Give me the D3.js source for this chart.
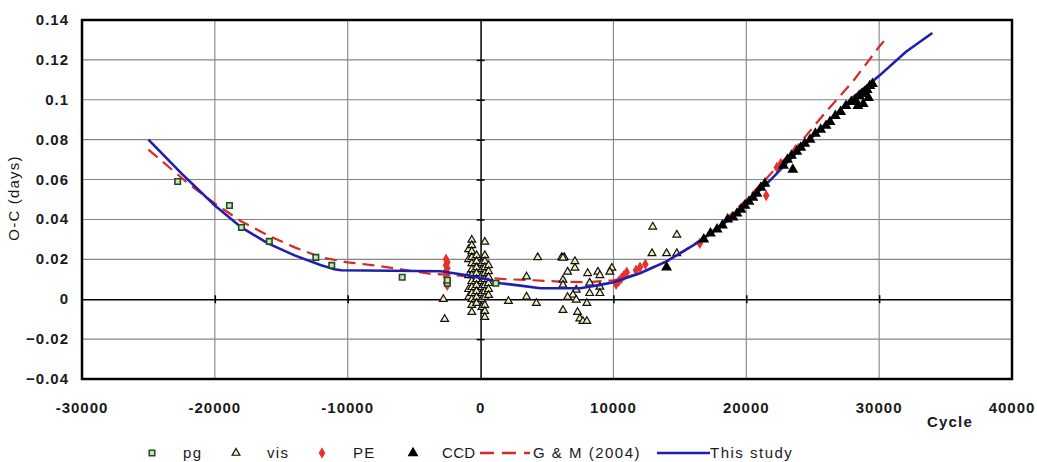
<!DOCTYPE html>
<html>
<head>
<meta charset="utf-8">
<script src="https://cdn.jsdelivr.net/npm/d3@7"></script>
<style>
  body { margin: 0; background: #fff; }
  text { font-family: "Liberation Sans", Arial, sans-serif; fill: #1a1a1a; }
</style>
</head>
<body>
<div id="chart"></div>
<script>
const FRAME_WIDTH = 1037;
const FRAME_HEIGHT = 462;
const PLOT = {left: 82, right: 1012, top: 20, bottom: 379};

// tick values
const X_TICKS = [-30000, -20000, -10000, 0, 10000, 20000, 30000, 40000];
const Y_TICKS = [-0.04, -0.02, 0, 0.02, 0.04, 0.06, 0.08, 0.1, 0.12, 0.14];

// photographic (pg) minima
const pg = [[-22800,0.059],[-18900,0.047],[-18000,0.036],[-15900,0.029],[-12400,0.021],
  [-11200,0.017],[-5900,0.011],[-2500,0.008],[-2500,0.0095],[1150,0.008]];

// visual minima
const vis = [[-2800,0.0],[-2700,-0.010],
  [-900,0.025],[-900,0.020],[-900,0.012],[-900,0.005],[-900,0.001],
  [-660,0.0297],[-660,0.027],[-660,0.024],[-660,0.021],[-660,0.018],[-660,0.015],[-660,0.012],
  [-660,0.009],[-660,0.006],[-660,0.003],[-660,0.0],[-660,-0.003],[-660,-0.0065],
  [-300,0.022],[-300,0.019],[-300,0.016],[-300,0.013],[-300,0.010],[-300,0.007],[-300,0.004],
  [-300,0.001],[-300,-0.002],
  [100,0.018],[100,0.015],[100,0.012],[100,0.009],[100,0.006],[100,0.003],[100,0.0],[100,-0.004],
  [320,0.0287],[320,0.022],[320,0.019],[320,0.016],[320,0.013],[320,0.010],[320,0.007],
  [320,0.004],[320,0.001],[320,-0.003],[320,-0.006],[320,-0.009],
  [600,0.017],[600,0.014],[600,0.011],[600,0.008],[600,0.005],[600,0.002],
  [2100,-0.001],[3460,0.0113],[3460,0.0012],[4300,0.021],[4200,-0.002],
  [6100,0.021],[6300,0.021],[6200,0.0207],[7100,0.019],[7100,0.0157],[6550,0.0137],[6200,0.0097],
  [6200,0.0072],[7200,0.0047],[6950,0.0022],[6550,0.001],[7200,-0.0003],[8060,0.013],
  [8830,0.0137],[8980,0.012],[8210,0.0082],[8210,0.003],[8980,0.0062],[8980,0.003],[8000,-0.002],
  [6200,-0.0055],[7300,-0.0065],[7470,-0.0097],[7700,-0.011],[8000,-0.011],[9880,0.0157],
  [9730,0.0137],[12900,0.023],[12960,0.0363],[14770,0.0323],[14000,0.023],[14770,0.023]];

// photoelectric minima
const pe = [[-2600,0.020],[-2500,0.0185],[-2600,0.017],[-2500,0.0155],[-2600,0.014],[-2500,0.0125],
  [-2600,0.011],[-2500,0.0095],[-2600,0.008],[-2500,0.007],
  [10200,0.0075],[10400,0.009],[10600,0.0105],[10800,0.012],[11000,0.0135],[11700,0.0145],
  [12000,0.016],[12400,0.0175],[16500,0.028],[21500,0.052],[22300,0.066],[22600,0.068],[23700,0.075]];

// CCD minima
const ccd = [[14000,0.016],[16800,0.030],[17300,0.033],[17800,0.035],[18200,0.037],[18600,0.040],
  [19000,0.041],[19300,0.043],[19600,0.045],[19900,0.047],[20200,0.049],[20500,0.051],
  [20800,0.053],[21100,0.056],[21400,0.058],[22800,0.067],[23100,0.070],[23400,0.072],
  [23500,0.065],[23800,0.074],[24100,0.076],[24400,0.078],[24800,0.080],[25200,0.083],
  [25600,0.085],[26000,0.087],[26300,0.089],[26700,0.092],[27100,0.094],[27500,0.097],
  [27900,0.099],[28200,0.100],[28500,0.102],[28700,0.103],[28900,0.104],[29100,0.105],
  [29300,0.107],[29500,0.108],[28800,0.098],[29200,0.101],[28400,0.097]];

// G & M (2004) ephemeris
const gm = [[-25000,0.075],[-22000,0.058],[-20000,0.048],[-18000,0.039],[-16000,0.032],
  [-14000,0.026],[-12000,0.021],[-10000,0.0185],[-8000,0.017],[-6000,0.015],[-4000,0.013],
  [-2000,0.012],[0,0.011],[2000,0.010],[4000,0.0095],[6000,0.0088],[8000,0.0085],
  [10000,0.0095],[12000,0.013],[14000,0.019],[16000,0.027],[18000,0.037],[20000,0.050],
  [22000,0.064],[24000,0.078],[26000,0.094],[28000,0.109],[30000,0.1266],[30700,0.132]];

// this study fit
const fit = [[-25000,0.080],[-22500,0.063],[-20000,0.047],[-18000,0.036],[-16000,0.028],
  [-14000,0.022],[-12000,0.017],[-11000,0.015],[-10500,0.0145],[-3000,0.014],[-2000,0.013],
  [-1000,0.012],[500,0.010],[1500,0.008],[3000,0.0068],[4500,0.0055],[7500,0.0055],
  [9000,0.0072],[10000,0.0085],[12000,0.013],[14000,0.019],[16000,0.027],[18000,0.036],
  [20000,0.048],[22000,0.061],[24000,0.075],[26000,0.088],[28000,0.101],[30000,0.112],
  [32000,0.124],[34000,0.1335]];

const svg = d3.select("#chart").append("svg")
  .attr("width", FRAME_WIDTH).attr("height", FRAME_HEIGHT);

const X_SCALE = d3.scaleLinear().domain([-30000, 40000]).range([PLOT.left, PLOT.right]);
const Y_SCALE = d3.scaleLinear().domain([-0.04, 0.14]).range([PLOT.bottom, PLOT.top]);

// grid
svg.append("g").selectAll("line")
  .data(X_TICKS.filter(d => d > -30000 && d < 40000 && d !== 0))
  .enter().append("line")
    .attr("x1", d => X_SCALE(d)).attr("x2", d => X_SCALE(d))
    .attr("y1", PLOT.top).attr("y2", PLOT.bottom)
    .attr("stroke", "#858585").attr("stroke-width", 1.1);
svg.append("g").selectAll("line")
  .data(Y_TICKS.filter(d => d > -0.04 && d < 0.14 && d !== 0))
  .enter().append("line")
    .attr("x1", PLOT.left).attr("x2", PLOT.right)
    .attr("y1", d => Y_SCALE(d)).attr("y2", d => Y_SCALE(d))
    .attr("stroke", "#858585").attr("stroke-width", 1.1);

// zero axes with cross ticks
const xAxis = svg.append("g")
  .attr("transform", "translate(0," + Y_SCALE(0) + ")")
  .call(d3.axisBottom(X_SCALE).tickValues(X_TICKS.slice(1, -1)).tickSize(7).tickSizeOuter(0).tickFormat(""));
xAxis.selectAll(".tick line").attr("y1", -4).attr("y2", 4).attr("stroke", "#000").attr("stroke-width", 1.5);
xAxis.select(".domain").attr("stroke", "#000").attr("stroke-width", 1.5);

const yAxis = svg.append("g")
  .attr("transform", "translate(" + X_SCALE(0) + ",0)")
  .call(d3.axisLeft(Y_SCALE).tickValues(Y_TICKS.slice(1, -1)).tickSize(7).tickSizeOuter(0).tickFormat(""));
yAxis.selectAll(".tick line").attr("x1", -4).attr("x2", 4).attr("stroke", "#000").attr("stroke-width", 1.5);
yAxis.select(".domain").attr("stroke", "#000").attr("stroke-width", 1.5);

// tick labels
svg.append("g").selectAll("text").data(X_TICKS).enter().append("text")
  .attr("x", d => X_SCALE(d)).attr("y", 413)
  .attr("text-anchor", "middle").attr("font-size", "15px").attr("letter-spacing", "1px")
  .attr("font-weight", "bold")
  .text(d => d);
svg.append("g").selectAll("text").data(Y_TICKS).enter().append("text")
  .attr("x", 69).attr("y", d => Y_SCALE(d) + 5)
  .attr("text-anchor", "end").attr("font-size", "15px").attr("letter-spacing", "1px")
  .attr("font-weight", "bold")
  .text(d => d3.format("~g")(d));

svg.append("text").attr("x", 950).attr("y", 427).attr("text-anchor", "middle")
  .attr("font-size", "15px").attr("letter-spacing", "1.2px").attr("font-weight", "bold").text("Cycle");
svg.append("text").attr("transform", "translate(19,198) rotate(-90)")
  .attr("text-anchor", "middle").attr("font-size", "15px").attr("letter-spacing", "1.2px")
  .text("O-C  (days)");

// lines
const line = d3.line().x(d => X_SCALE(d[0])).y(d => Y_SCALE(d[1]));
svg.append("path").datum(gm).attr("d", line)
  .attr("fill", "none").attr("stroke", "#d82828").attr("stroke-width", 2.2)
  .attr("stroke-dasharray", "12,7");

// symbols
const sq = d3.symbol().type(d3.symbolSquare).size(30);
const tri = d3.symbol().type(d3.symbolTriangle).size(26);
const triBig = d3.symbol().type(d3.symbolTriangle).size(52);
const dia = d3.symbol().type(d3.symbolDiamond).size(38);

svg.append("g").selectAll("path").data(vis).enter().append("path")
  .attr("d", tri).attr("transform", d => "translate(" + X_SCALE(d[0]) + "," + Y_SCALE(d[1]) + ")")
  .attr("fill", "#f4f0c0").attr("stroke", "#111").attr("stroke-width", 1.2);

svg.append("g").selectAll("path").data(pe).enter().append("path")
  .attr("d", dia).attr("transform", d => "translate(" + X_SCALE(d[0]) + "," + Y_SCALE(d[1]) + ")")
  .attr("fill", "#e8302c");

svg.append("path").datum(fit).attr("d", line)
  .attr("fill", "none").attr("stroke", "#1f1fae").attr("stroke-width", 2.6);

svg.append("g").selectAll("path").data(ccd).enter().append("path")
  .attr("d", triBig).attr("transform", d => "translate(" + X_SCALE(d[0]) + "," + Y_SCALE(d[1]) + ")")
  .attr("fill", "#000");

svg.append("g").selectAll("path").data(pg).enter().append("path")
  .attr("d", sq).attr("transform", d => "translate(" + X_SCALE(d[0]) + "," + Y_SCALE(d[1]) + ")")
  .attr("fill", "#cfe4b8").attr("stroke", "#1f4d24").attr("stroke-width", 1.6);

// frame
svg.append("rect").attr("x", PLOT.left).attr("y", PLOT.top)
  .attr("width", PLOT.right - PLOT.left).attr("height", PLOT.bottom - PLOT.top)
  .attr("fill", "none").attr("stroke", "#000").attr("stroke-width", 2.5);

// legend
const LY = 453;
const lg = svg.append("g").attr("font-size", "15px").attr("letter-spacing", "1.3px");
lg.append("path").attr("d", sq).attr("transform", "translate(152," + LY + ")")
  .attr("fill", "#cfe4b8").attr("stroke", "#1f4d24").attr("stroke-width", 1.6);
lg.append("text").attr("x", 183).attr("y", LY + 5).text("pg");
lg.append("path").attr("d", tri).attr("transform", "translate(236," + LY + ")")
  .attr("fill", "#f4f0c0").attr("stroke", "#111").attr("stroke-width", 1.2);
lg.append("text").attr("x", 267).attr("y", LY + 5).text("vis");
lg.append("path").attr("d", dia).attr("transform", "translate(322," + LY + ")").attr("fill", "#e8302c");
lg.append("text").attr("x", 353).attr("y", LY + 5).text("PE");
lg.append("path").attr("d", triBig).attr("transform", "translate(413," + LY + ")").attr("fill", "#000");
lg.append("text").attr("x", 442).attr("y", LY + 5).attr("letter-spacing", "0.3px").text("CCD");
lg.append("line").attr("x1", 480).attr("x2", 530).attr("y1", LY).attr("y2", LY)
  .attr("stroke", "#d82828").attr("stroke-width", 2.5).attr("stroke-dasharray", "14,8");
lg.append("text").attr("x", 533).attr("y", LY + 5).attr("letter-spacing", "1.5px").text("G & M (2004)");
lg.append("line").attr("x1", 657).attr("x2", 710).attr("y1", LY).attr("y2", LY)
  .attr("stroke", "#1f1fae").attr("stroke-width", 2.5);
lg.append("text").attr("x", 710).attr("y", LY + 5).attr("letter-spacing", "1.5px").text("This study");
</script>
</body>
</html>
